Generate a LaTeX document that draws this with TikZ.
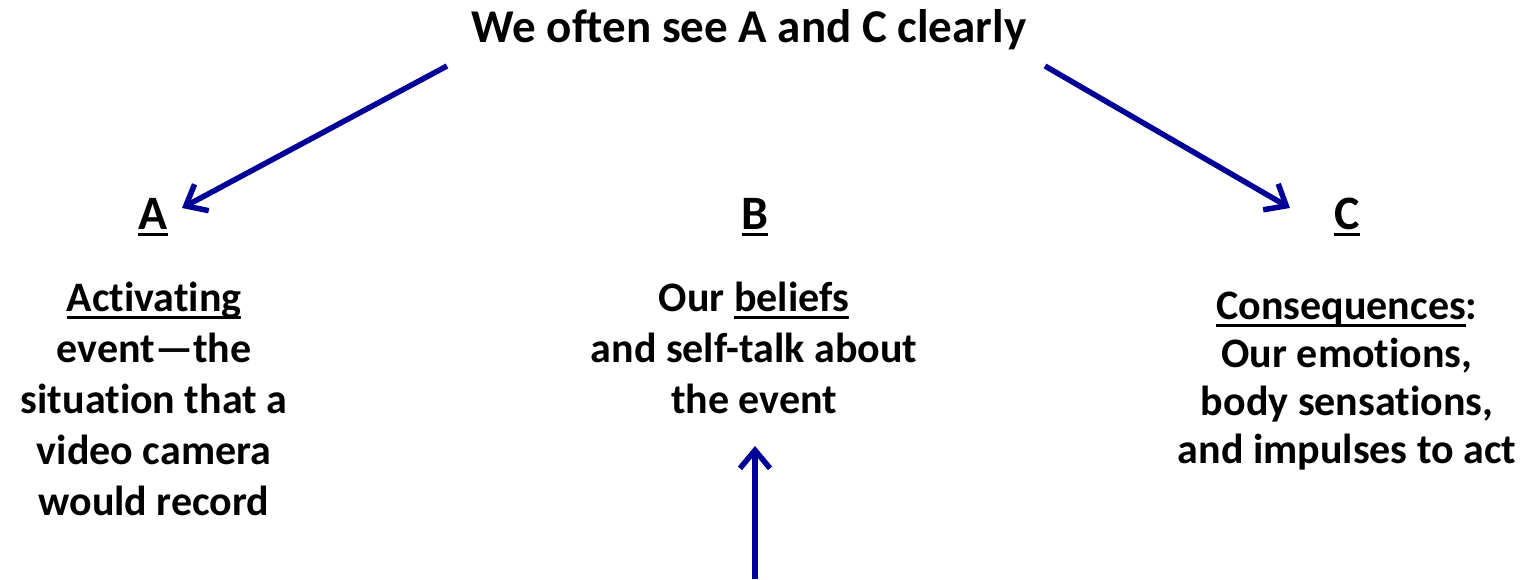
\documentclass[tikz,border=0pt]{standalone}
\usepackage{fontspec}
\setmainfont{Carlito}[Ligatures={TeX,NoCommon}]
\usetikzlibrary{arrows.meta}
\definecolor{arrowblue}{RGB}{0,0,150}
\newcommand\myul[1]{\begingroup\setbox0\hbox{#1}\rlap{\rule[-7pt]{\wd0}{2.8pt}}\box0\endgroup}
\tikzset{
  txt/.style={font=\fontsize{42}{51}\selectfont\bfseries, inner sep=0pt, align=center},
  head/.style={font=\fontsize{48}{50}\selectfont\bfseries, inner sep=0pt, anchor=base},
  conn/.style={draw=arrowblue, line width=5.5pt, -{Straight Barb[length=18pt,width=30pt,line width=5.5pt]}}
}
\begin{document}
\begin{tikzpicture}[x=1pt,y=-1pt]
\useasboundingbox (0,0) rectangle (1529,579);
\node[head, font=\fontsize{47}{50}\selectfont\bfseries] (title) at (749,42) {We often see A and C clearly};
\node[head] (A) at (153,229) {\myul{A}};
\node[head] (B) at (755,229) {\myul{B}};
\node[head] (C) at (1347,229) {\myul{C}};
\node[txt, anchor=north] (Atext) at (154,282) {\myul{Activating}\\event---the\\situation that a\\video camera\\would record};
\node[txt, anchor=north] (Btext) at (754,282) {Our \myul{beliefs}\\and self-talk about\\the event};
\node[txt, anchor=north, font=\fontsize{42}{48}\selectfont\bfseries] (Ctext) at (1347,292) {\myul{Consequences}:\\Our emotions,\\body sensations,\\and impulses to act};
\coordinate (s1) at (447,66);
\coordinate (t1) at (182,208);
\coordinate (s2) at (1045,66);
\coordinate (t2) at (1290,208);
\coordinate (s3) at (755,579);
\coordinate (t3) at (755,446);
\draw[conn] (s1) -- (t1);
\draw[conn] (s2) -- (t2);
\draw[conn] (s3) -- (t3);
\end{tikzpicture}
\end{document}
